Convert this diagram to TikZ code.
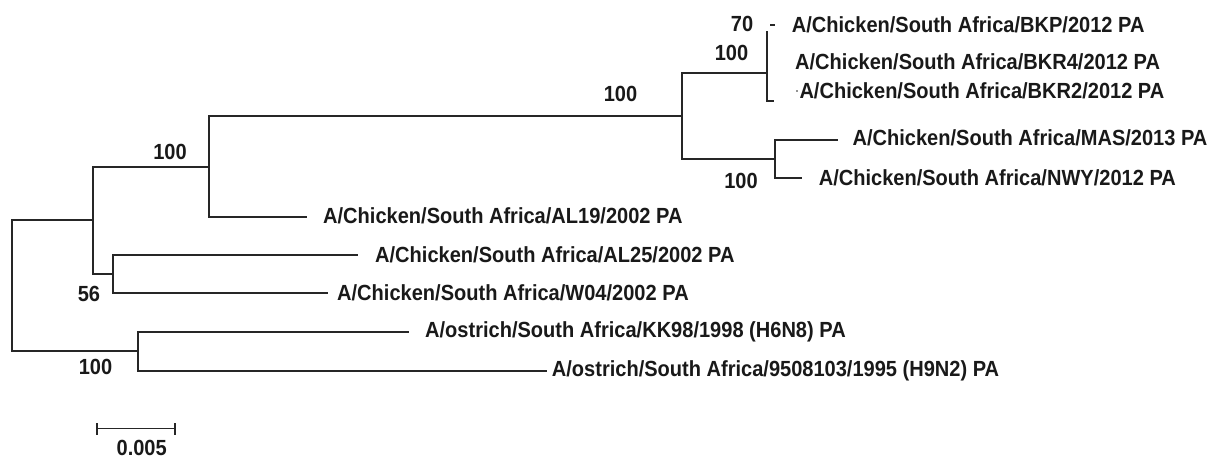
\documentclass[tikz,border=0pt]{standalone}
\usepackage{fontspec}
\usepackage{graphicx}
\setmainfont{Liberation Sans}
\newcommand{\cond}[1]{\scalebox{0.915}[1]{#1}}
\begin{document}
\begin{tikzpicture}[x=1pt,y=-1pt,
  br/.style={line width=1.6pt,black!85},
  leaf/.style={anchor=base west,inner sep=0pt,text=black!90,font=\fontsize{21.9}{26}\selectfont\bfseries},
  boot/.style={anchor=base,inner sep=0pt,text=black!90,font=\fontsize{21.9}{26}\selectfont\bfseries}]
\useasboundingbox (0,0) rectangle (1216,459);
% internal nodes
\coordinate (r) at (12,285.5);
\coordinate (n1) at (93,220);
\coordinate (n2) at (209,167);
\coordinate (n3) at (682,116);
\coordinate (n4) at (767,73);
\coordinate (n8) at (767,31);
\coordinate (n5) at (775,159);
\coordinate (n6) at (113,274);
\coordinate (n7) at (138,351);
% leaf ends
\coordinate (eAL19) at (307,217);
\coordinate (eAL25) at (358,255);
\coordinate (eW04) at (328,293);
\coordinate (eKK) at (409,332);
\coordinate (eH9) at (547,371);
\coordinate (eMAS) at (838,140);
\coordinate (eNWY) at (802,178);
\coordinate (eBKR2) at (774,101);
\coordinate (bkpA) at (770,25);
\coordinate (bkpB) at (775,25);
\coordinate (bkrA) at (767,43);
\coordinate (bkrB) at (767,54);
% branches
\draw[br] (r) |- (n1);
\draw[br] (r) |- (n7);
\draw[br] (n1) |- (n2);
\draw[br] (n1) |- (n6);
\draw[br] (n2) |- (n3);
\draw[br] (n2) |- (eAL19);
\draw[br] (n3) |- (n4);
\draw[br] (n3) |- (n5);
\draw[br] (n4) -- (n8);
\draw[br] (n4) |- (eBKR2);
\draw[line width=2.8pt,black!85] (bkrA) -- (bkrB);
\draw[br] (bkpA) -- (bkpB);
\draw[br] (n5) |- (eMAS);
\draw[br] (n5) |- (eNWY);
\draw[br] (n6) |- (eAL25);
\draw[br] (n6) |- (eW04);
\draw[br] (n7) |- (eKK);
\draw[br] (n7) |- (eH9);
\fill[black!85] (797,91) circle (0.9pt);
% leaf labels
\node[leaf] (tBKP) at (791.7,32.5) {\cond{A/Chicken/South Africa/BKP/2012 PA}};
\node[leaf] (tBKR4) at (795,69.2) {\cond{A/Chicken/South Africa/BKR4/2012 PA}};
\node[leaf] (tBKR2) at (799.3,98.5) {\cond{A/Chicken/South Africa/BKR2/2012 PA}};
\node[leaf] (tMAS) at (852.4,145.5) {\cond{A/Chicken/South Africa/MAS/2013 PA}};
\node[leaf] (tNWY) at (818.6,185.8) {\cond{A/Chicken/South Africa/NWY/2012 PA}};
\node[leaf] (tAL19) at (323,223) {\cond{A/Chicken/South Africa/AL19/2002 PA}};
\node[leaf] (tAL25) at (375,262.5) {\cond{A/Chicken/South Africa/AL25/2002 PA}};
\node[leaf] (tW04) at (337,300.2) {\cond{A/Chicken/South Africa/W04/2002 PA}};
\node[leaf] (tKK) at (425,337.5) {\cond{A/ostrich/South Africa/KK98/1998 (H6N8) PA}};
\node[leaf] (tH9) at (551.7,376.5) {\cond{A/ostrich/South Africa/9508103/1995 (H9N2) PA}};
% bootstrap values
\node[boot] (b1) at (170,159.2) {\cond{100}};
\node[boot] (b2) at (89,301.5) {\cond{56}};
\node[boot] (b3) at (95.5,374.8) {\cond{100}};
\node[boot] (b4) at (620.5,101.5) {\cond{100}};
\node[boot] (b5) at (741,188.5) {\cond{100}};
\node[boot] (b6) at (742,31.5) {\cond{70}};
\node[boot] (b7) at (731.5,60.8) {\cond{100}};
% scale bar
\coordinate (sL) at (96.7,428.3);
\coordinate (sR) at (175,428.3);
\draw[br] (sL) -- (sR);
\draw[br] ([yshift=-6.5pt]sL) -- ([yshift=5pt]sL);
\draw[br] ([yshift=-6.5pt]sR) -- ([yshift=5pt]sR);
\node[boot] (sc) at (141.7,455) {\cond{0.005}};
\end{tikzpicture}
\end{document}
